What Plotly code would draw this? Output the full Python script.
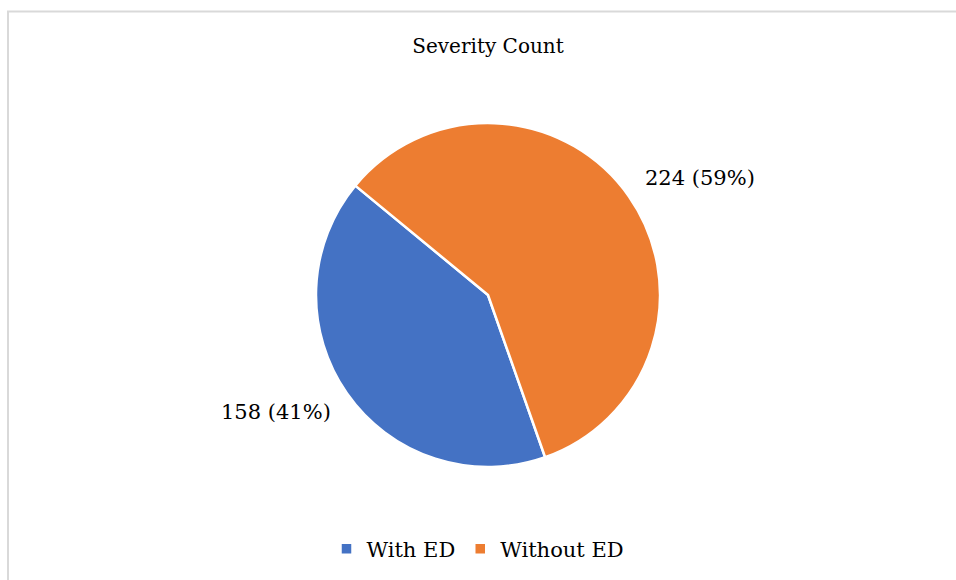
import math
import plotly.graph_objects as go

labels = ["With ED", "Without ED"]
values = [158, 224]
colors = ["#4472C4", "#ED7D31"]
title_text = "Severity Count"

W, H = 956, 580
FONT = "DejaVu Serif"
START = 160.6          # clockwise start angle of first slice (deg from 12 o'clock)
CX, CY, R = 488, 295, 172  # pie centre / radius in pixels

fig = go.Figure(go.Pie(
    labels=labels,
    values=values,
    marker=dict(colors=colors, line=dict(color="white", width=2.5)),
    sort=False,
    direction="clockwise",
    rotation=START,
    textinfo="none",
    domain=dict(x=[(CX - 300) / W, (CX + 300) / W], y=[(H - CY - R) / H, (H - CY + R) / H]),
    hoverinfo="label+value+percent",
))

# data labels placed outside each slice, around the slice's mid angle
total = sum(values)
ann = []
acc = 0
for v in values:
    mid = START + 360 * (acc + v / 2) / total + 6
    acc += v
    a = math.radians(mid)
    px = CX + 1.41 * R * math.sin(a)
    py = CY - 1.41 * R * math.cos(a)
    ann.append(dict(x=px / W, y=1 - py / H, xref="paper", yref="paper",
                    text=f"{v} ({v / total:.0%})", showarrow=False,
                    xanchor="center", yanchor="middle",
                    font=dict(family=FONT, size=21, color="black")))

fig.update_layout(
    width=W, height=H,
    margin=dict(l=0, r=0, t=0, b=0, autoexpand=False),
    paper_bgcolor="white",
    plot_bgcolor="white",
    font=dict(family=FONT, color="black"),
    title=dict(text=title_text, x=CX / W, xanchor="center", y=1 - 46 / H, yanchor="middle",
               yref="container", font=dict(family=FONT, size=20, color="black")),
    legend=dict(orientation="h", x=0.5, xanchor="center", y=31 / H, yanchor="middle",
                font=dict(family=FONT, size=21, color="black"), itemwidth=30),
    annotations=ann,
    shapes=[
        dict(type="line", xref="paper", yref="paper", x0=8 / W, x1=8 / W, y0=0, y1=1 - 11.5 / H,
             line=dict(color="#d9d9d9", width=2)),
        dict(type="line", xref="paper", yref="paper", x0=7 / W, x1=1, y0=1 - 11.5 / H, y1=1 - 11.5 / H,
             line=dict(color="#d9d9d9", width=2)),
    ],
)

fig.write_html("out.html")
